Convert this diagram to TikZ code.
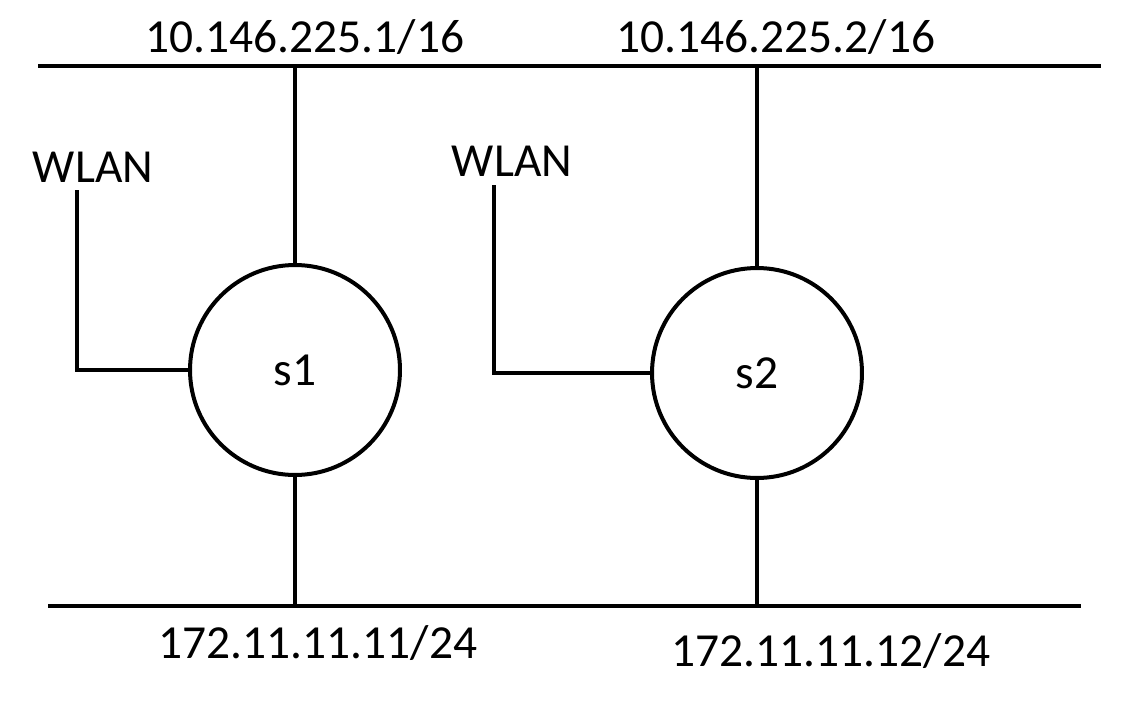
\documentclass[tikz,border=0pt]{standalone}
\usepackage{fontspec}
\setmainfont{Carlito}
\usepackage{tikz}

\begin{document}
\begin{tikzpicture}[x=0.02cm, y=-0.02cm,
    wire/.style={line width=0.08cm},
    switch/.style={circle, draw, line width=0.08cm, minimum size=4.2cm, inner sep=0pt},
    lbl/.style={font=\fontsize{27}{32}\selectfont, inner sep=0pt}]
  \useasboundingbox (0,0) rectangle (1141,706);

  % buses
  \coordinate (tl) at (38,66);
  \coordinate (tr) at (1101,66);
  \coordinate (bl) at (48,606);
  \coordinate (br) at (1081,606);
  \draw[wire] (tl) -- (tr);
  \draw[wire] (bl) -- (br);

  % switches
  \node[switch, lbl] (s1) at (295,370) {s1};
  \node[switch, lbl] (s2) at (757,373) {s2};

  % addresses
  \node[lbl] (ip1) at (305,37) {10.146.225.1/16};
  \node[lbl] (ip2) at (776,37) {10.146.225.2/16};
  \node[lbl] (ip3) at (318,643) {172.11.11.11/24};
  \node[lbl] (ip4) at (831,651) {172.11.11.12/24};

  % wlan
  \node[lbl] (w1) at (93,167) {WLAN};
  \node[lbl] (w2) at (512,161) {WLAN};
  \coordinate (w1a) at (77,190);
  \coordinate (w2a) at (494,185);
  \draw[wire] (w1a) |- (s1.west);
  \draw[wire] (w2a) |- (s2.west);

  % uplinks
  \draw[wire] (s1.north) -- (s1.north |- tl);
  \draw[wire] (s2.north) -- (s2.north |- tl);
  \draw[wire] (s1.south) -- (s1.south |- bl);
  \draw[wire] (s2.south) -- (s2.south |- bl);
\end{tikzpicture}
\end{document}
